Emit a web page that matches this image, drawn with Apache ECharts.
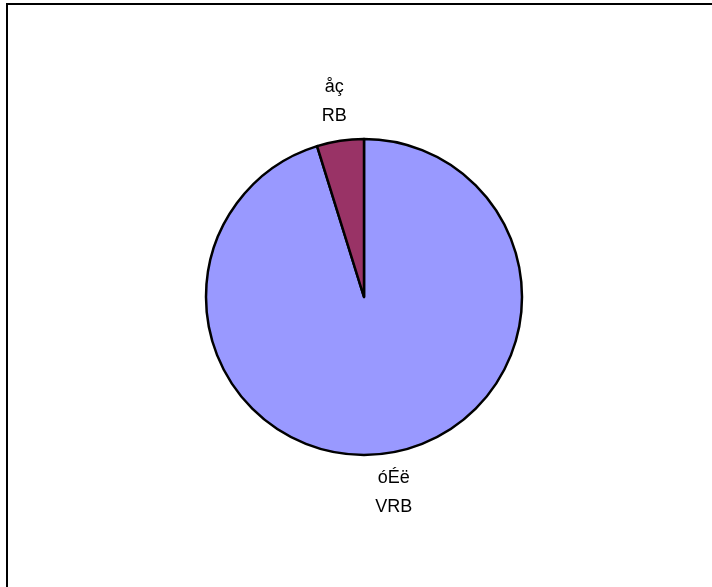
<!DOCTYPE html>
<html>
<head>
<meta charset="utf-8">
<script src="https://cdn.jsdelivr.net/npm/echarts@6/dist/echarts.min.js"></script>
<style>html,body{margin:0;padding:0;background:#fff}#c{width:712px;height:587px}</style>
</head>
<body>
<div id="c"></div>
<script>
var categories = ['óÉë\nVRB', 'åç\nRB'];
var values = [95.2, 4.8];
var colors = ['#9999FF', '#993366'];

var chart = echarts.init(document.getElementById('c'), null, {renderer: 'canvas'});
var cx = 364, cy = 297, R = 158, labelR = 198;
var total = values.reduce(function (a, b) { return a + b; }, 0);
function midAngle(i) {
  var s = 0;
  for (var k = 0; k < i; k++) s += values[k];
  return (s + values[i] / 2) / total * 2 * Math.PI;
}
chart.setOption({
  animation: false,
  backgroundColor: '#ffffff',
  graphic: [{
    type: 'rect',
    shape: {x: 7, y: 4, width: 720, height: 600},
    style: {fill: 'none', stroke: '#000', lineWidth: 2}
  }],
  series: [{
    type: 'pie',
    center: [cx, cy],
    radius: R,
    startAngle: 90,
    clockwise: true,
    data: categories.map(function (c, i) {
      return {name: c, value: values[i], itemStyle: {color: colors[i]}};
    }),
    itemStyle: {borderColor: '#000', borderWidth: 2.5},
    label: {
      show: true,
      position: 'outside',
      formatter: '{b}',
      fontFamily: 'Liberation Sans, Arial, sans-serif',
      fontSize: 18,
      lineHeight: 29,
      color: '#000',
      align: 'center'
    },
    labelLine: {show: false},
    labelLayout: function (p) {
      var a = midAngle(p.dataIndex);
      return {
        x: cx + labelR * Math.sin(a),
        y: cy - labelR * Math.cos(a),
        align: 'center',
        verticalAlign: 'middle'
      };
    },
    emphasis: {disabled: true}
  }]
});
</script>
</body>
</html>
